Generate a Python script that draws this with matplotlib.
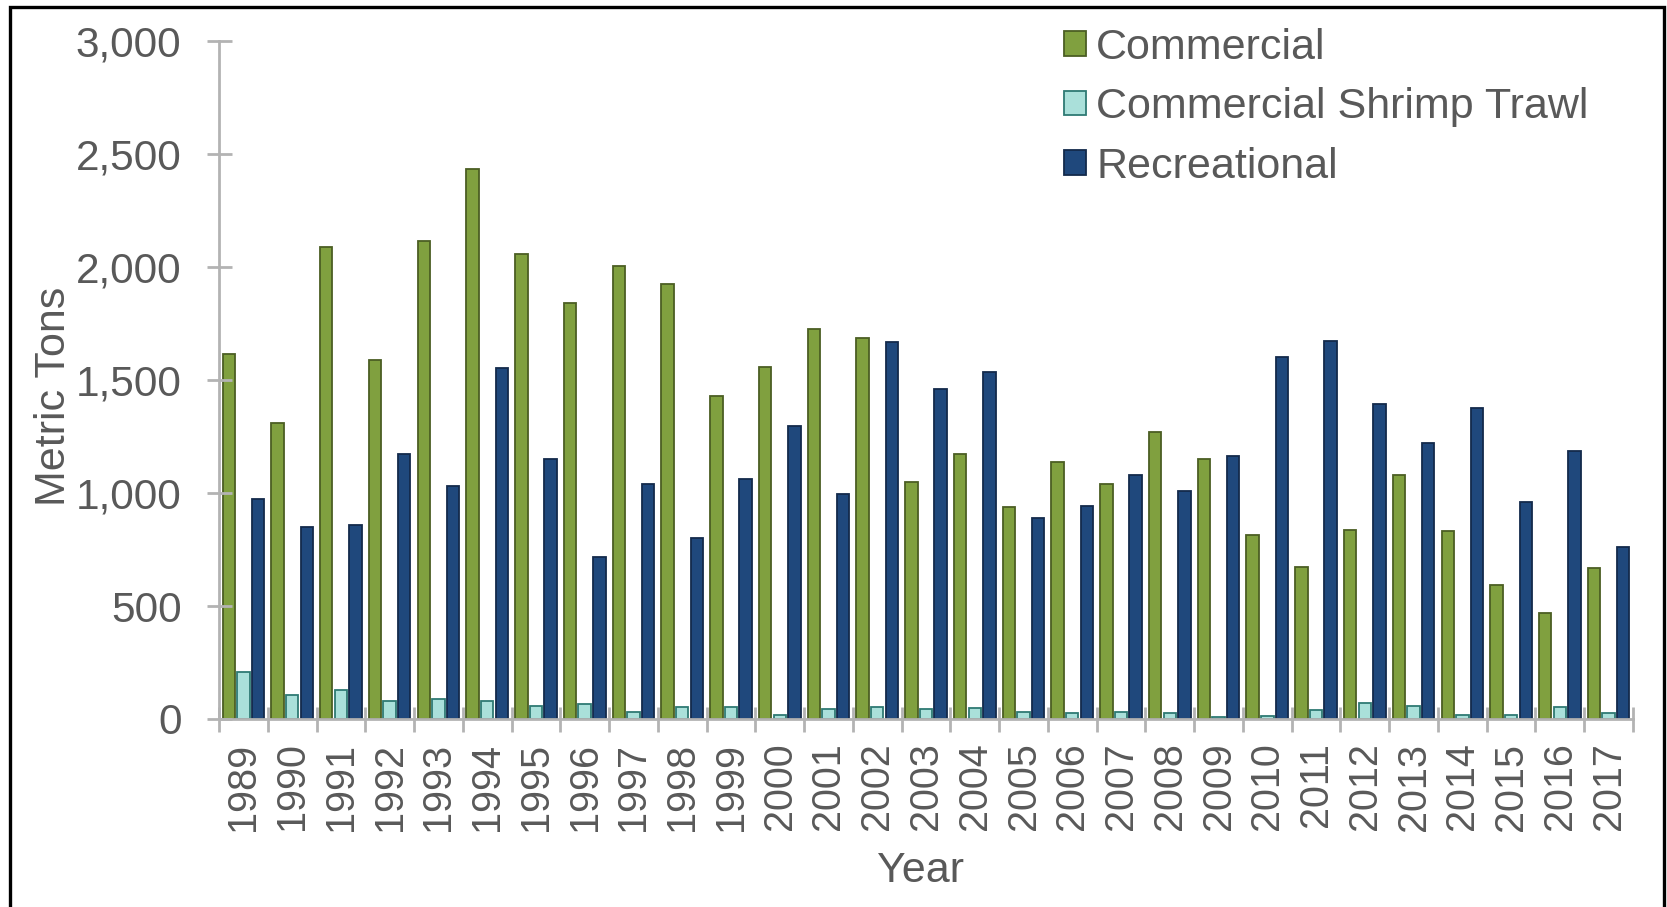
import numpy as np
import matplotlib.pyplot as plt
from matplotlib.patches import Rectangle

years = list(range(1989, 2018))
commercial = [1615, 1309, 2087, 1587, 2115, 2435, 2058, 1842, 2006, 1926,
              1427, 1559, 1724, 1686, 1050, 1173, 937, 1135, 1041, 1272,
              1149, 815, 673, 838, 1079, 834, 593, 471, 669]
shrimp_trawl = [209, 106, 128, 78, 88, 80, 59, 66, 32, 53,
                53, 19, 46, 53, 46, 50, 32, 25, 32, 28,
                10, 15, 40, 72, 56, 19, 18, 52, 28]
recreational = [975, 848, 857, 1173, 1031, 1554, 1149, 716, 1041, 801,
                1060, 1295, 994, 1667, 1460, 1535, 890, 942, 1079, 1008,
                1163, 1601, 1672, 1394, 1220, 1375, 961, 1187, 763]

series = [
    ("Commercial", commercial, "#80a03f", "#4b5e23"),
    ("Commercial Shrimp Trawl", shrimp_trawl, "#aae0da", "#2e7a73"),
    ("Recreational", recreational, "#1f487c", "#132a4b"),
]

txt = "#595959"
axis_gray = "#b3b3b3"
plt.rcParams['font.family'] = ['Liberation Sans', 'DejaVu Sans']

fig = plt.figure(figsize=(16.67, 9.07), dpi=100)
ax = fig.add_axes([219 / 1667, 1 - 719 / 907, (1633 - 219) / 1667, (719 - 41) / 907])

x = np.arange(len(years))
width = 0.255
offsets = [-0.3, 0.0, 0.3]
for (name, vals, face, edge), off in zip(series, offsets):
    ax.bar(x + off, vals, width, color=face, edgecolor=edge, linewidth=1.3, label=name)

ax.set_xlim(-0.5, len(years) - 0.5)
ax.set_ylim(0, 3000)
ax.set_yticks(range(0, 3001, 500))
ax.set_yticklabels([f"{v:,}" for v in range(0, 3001, 500)], fontsize=30.5)

# year labels sit at category centres, tick marks at the boundaries
ax.set_xticks(x)
ax.set_xticklabels([str(y) for y in years], rotation=90, fontsize=28.5)
ax.set_xticks(np.arange(-0.5, len(years)), minor=True)
ax.tick_params(axis='x', which='major', length=0, pad=17, colors=txt)
ax.tick_params(axis='x', which='minor', length=18, width=2, direction='inout', color=axis_gray)
ax.tick_params(axis='y', length=18, width=2, direction='inout', color=axis_gray,
               labelcolor=txt, pad=18)

for side in ('top', 'right'):
    ax.spines[side].set_visible(False)
for side in ('left', 'bottom'):
    ax.spines[side].set_color(axis_gray)
    ax.spines[side].set_linewidth(2)

fig.text(54 / 1667, 1 - 396 / 907, "Metric Tons", rotation=90, ha='center', va='center',
         color=txt, fontsize=31)
fig.text(921 / 1667, 1 - 871 / 907, "Year", ha='center', va='center', color=txt, fontsize=31)

leg = ax.legend(loc='upper left', bbox_to_anchor=(1064 / 1667, 1 - 28 / 907),
                bbox_transform=fig.transFigure, frameon=False, fontsize=31,
                handlelength=0.5, handleheight=0.5, handletextpad=0.25,
                labelspacing=0.45, borderpad=0, borderaxespad=0)
for t in leg.get_texts():
    t.set_color(txt)

# outer frame around the figure
fig.patches.append(Rectangle((10 / 1667, -0.02), (1664 - 10) / 1667, 1.02 - 7 / 907,
                             transform=fig.transFigure, fill=False,
                             edgecolor='black', linewidth=2.4))

fig.savefig("out.png", dpi=100)
